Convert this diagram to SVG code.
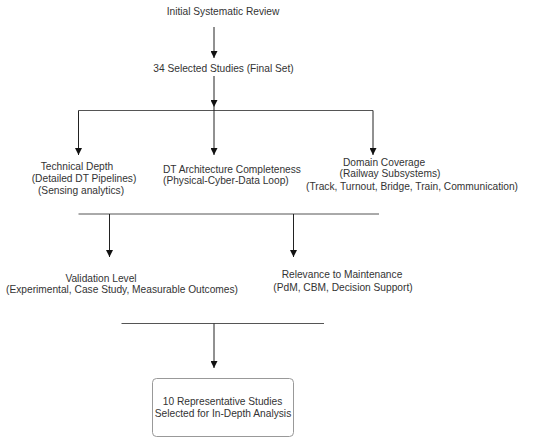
<svg xmlns="http://www.w3.org/2000/svg" width="550" height="446" viewBox="0 0 550 446">
<style>
text{font-family:"Liberation Sans",Arial,sans-serif;font-size:10.2px;fill:#333;text-anchor:middle}
.ln{stroke:#555;stroke-width:1;fill:none}
.ar{stroke:#222;stroke-width:1;fill:none;marker-end:url(#ah)}
.box{fill:#fff;stroke:#999;stroke-width:1}
</style>
<defs>
<marker id="ah" viewBox="0 0 8 8" refX="8" refY="4" markerWidth="7" markerHeight="7" markerUnits="userSpaceOnUse" orient="auto">
<path d="M0,0 L8,4 L0,8 Z" fill="#111"/>
</marker>
</defs>
<rect width="550" height="446" fill="#fff"/>
<g id="connectors">
<line class="ar" x1="214" y1="27" x2="214" y2="58"/>
<line class="ar" x1="214" y1="76" x2="214" y2="107"/>
<line class="ln" x1="78.5" y1="110.5" x2="373" y2="110.5"/>
<line class="ar" x1="78.5" y1="110.5" x2="78.5" y2="155"/>
<line class="ar" x1="214" y1="107" x2="214" y2="155"/>
<line class="ar" x1="373" y1="110.5" x2="373" y2="155"/>
<line class="ln" x1="78.5" y1="214" x2="379" y2="214"/>
<line class="ar" x1="109.5" y1="214" x2="109.5" y2="257"/>
<line class="ar" x1="293.5" y1="214" x2="293.5" y2="257"/>
<line class="ln" x1="121.5" y1="323.5" x2="324" y2="323.5"/>
<line class="ar" x1="214" y1="323.5" x2="214" y2="368"/>
</g>
<g id="initial"><text x="223" y="15">Initial Systematic Review</text></g>
<g id="selected"><text x="223.5" y="72">34 Selected Studies (Final Set)</text></g>
<g id="technical">
<text x="77" y="170">Technical Depth</text>
<text x="84" y="182">(Detailed DT Pipelines)</text>
<text x="81" y="194">(Sensing analytics)</text>
</g>
<g id="architecture">
<text x="163" y="172.5" style="text-anchor:start">DT Architecture Completeness</text>
<text x="163" y="184" style="text-anchor:start">(Physical-Cyber-Data Loop)</text>
</g>
<g id="domain">
<text x="384" y="165.5">Domain Coverage</text>
<text x="390" y="177">(Railway Subsystems)</text>
<text x="412" y="190">(Track, Turnout, Bridge, Train, Communication)</text>
</g>
<g id="validation">
<text x="101" y="281.5">Validation Level</text>
<text x="122" y="293">(Experimental, Case Study, Measurable Outcomes)</text>
</g>
<g id="relevance">
<text x="342" y="278">Relevance to Maintenance</text>
<text x="343" y="290.5">(PdM, CBM, Decision Support)</text>
</g>
<g id="final">
<rect class="box" x="152.5" y="378.5" width="141" height="58" rx="4"/>
<text x="222.5" y="405">10 Representative Studies</text>
<text x="223" y="416.5">Selected for In-Depth Analysis</text>
</g>
</svg>
